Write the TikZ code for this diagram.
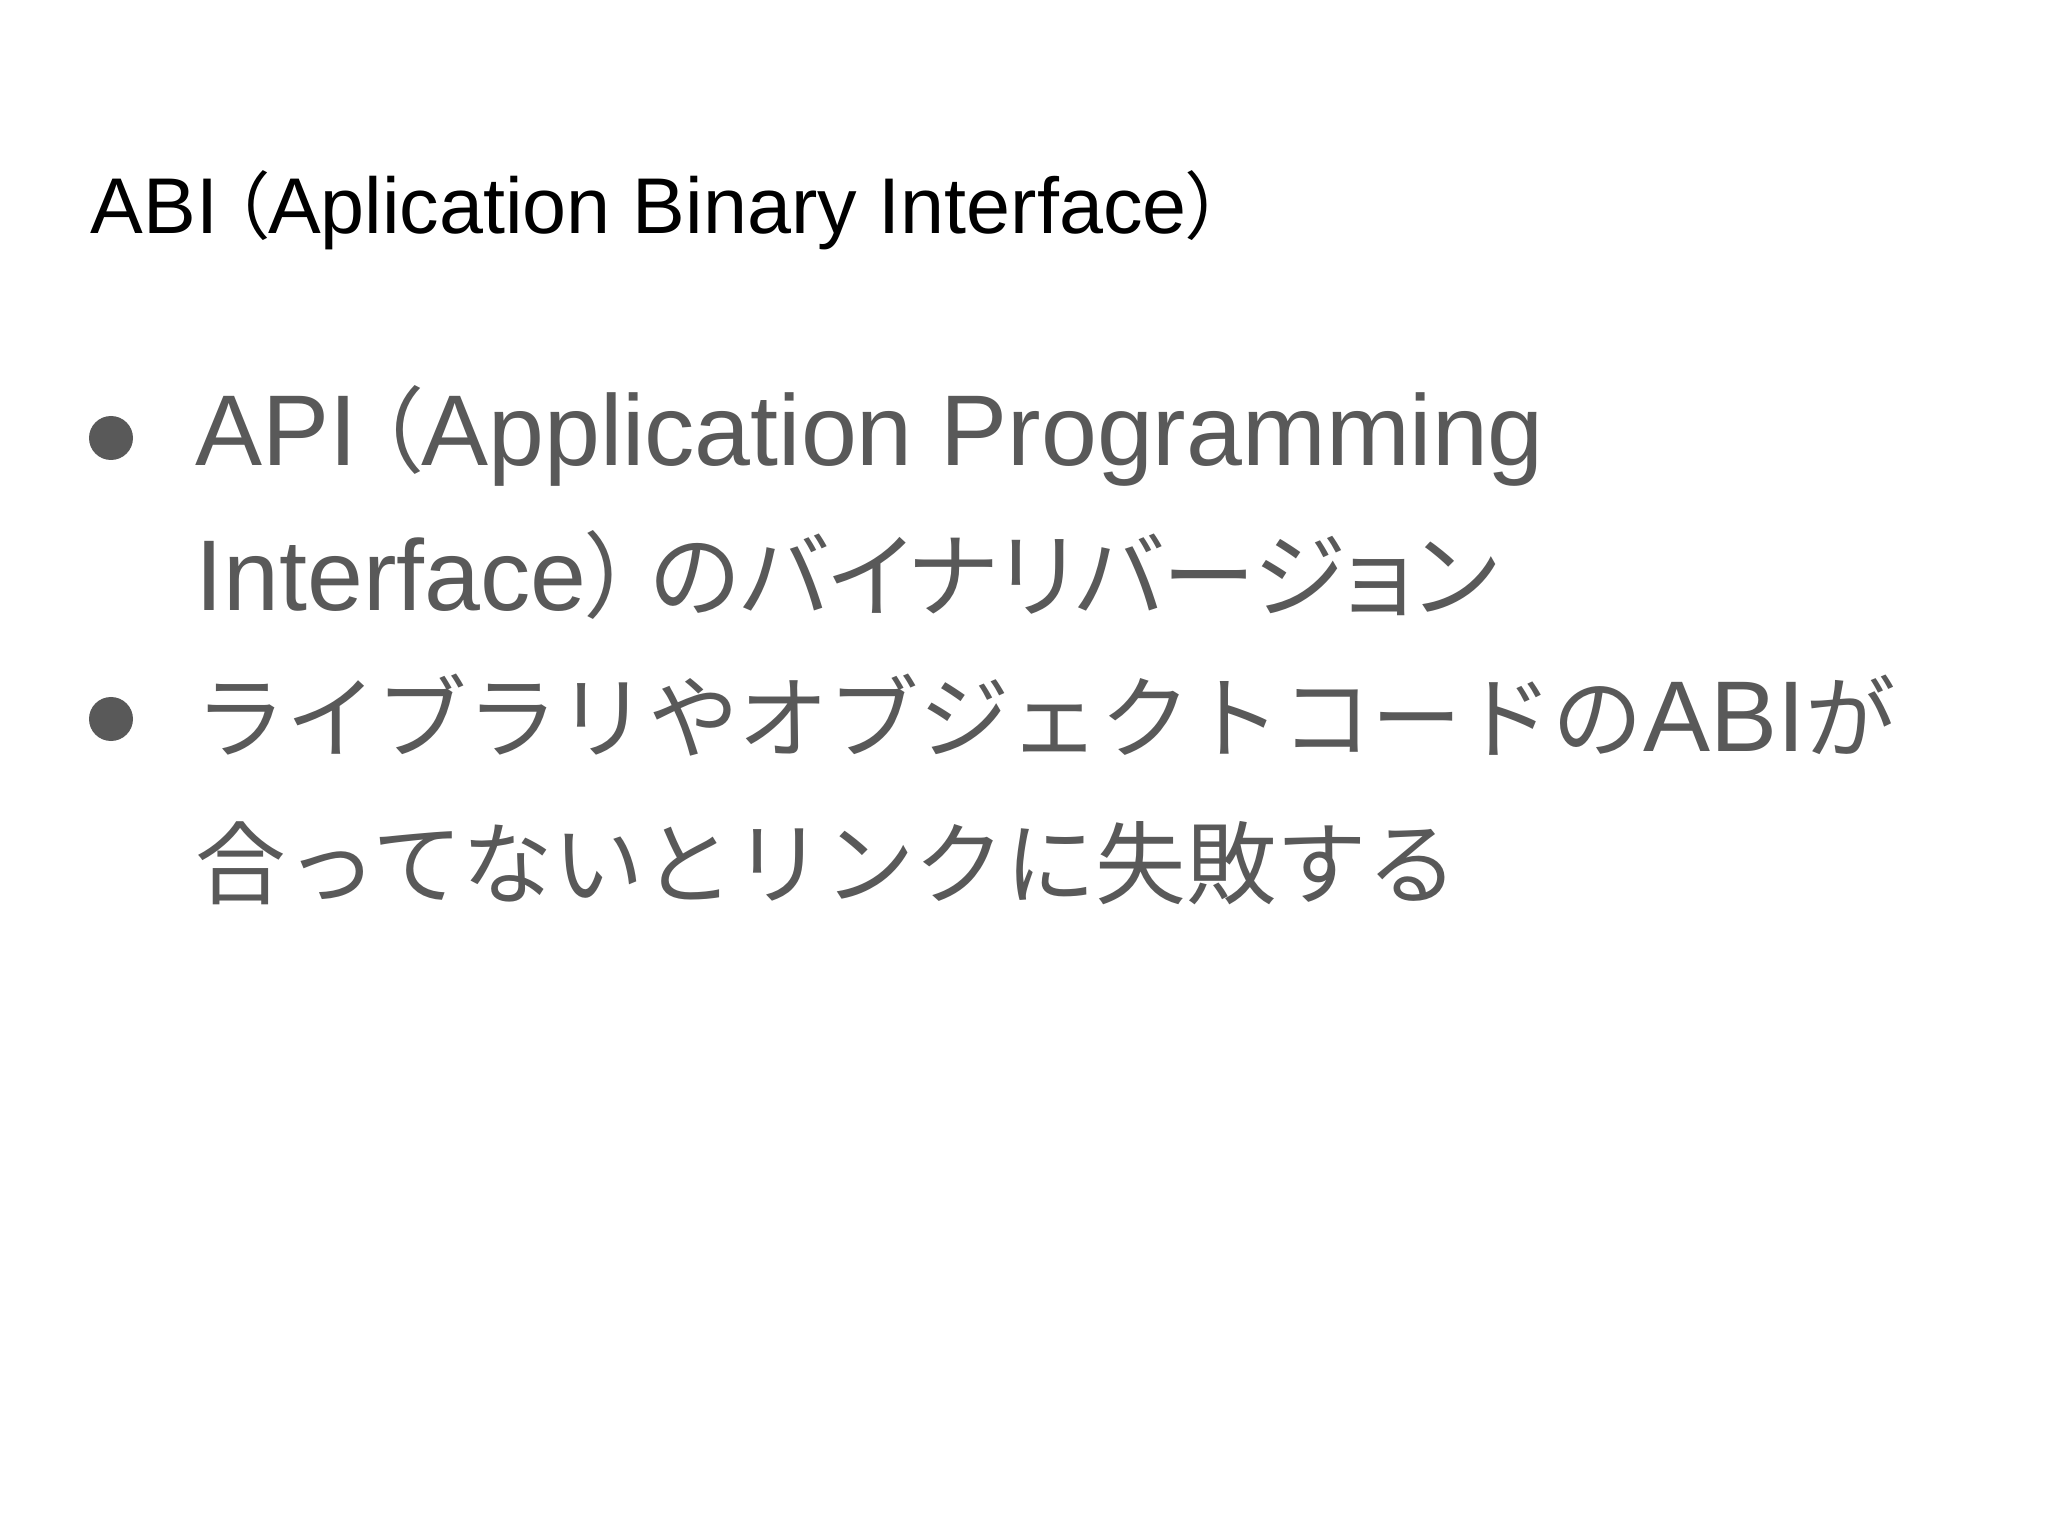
\documentclass[tikz,border=0pt]{standalone}
\usepackage{fontspec}
\setmainfont{Liberation Sans}
\newfontfamily\cjk[Scale=0.9]{Noto Sans CJK JP}
\newfontfamily\cjkp[Scale=0.93,RawFeature=+palt]{Noto Sans CJK JP}
\definecolor{txtgray}{HTML}{595959}
\begin{document}
\begin{tikzpicture}[
  title/.style={anchor=base west, inner sep=0pt, font=\fontsize{22.5}{26}\selectfont, text=black},
  body/.style={anchor=base west, inner sep=0pt, font=\fontsize{28.6}{34}\selectfont, text=txtgray},
  dot/.style={circle, fill=txtgray, minimum size=0.44cm, inner sep=0pt}]
\useasboundingbox[fill=white] (0,0) rectangle (20.48,-15.36);
\node[title] (t) at (0.90,-2.34) {ABI\,{\cjkp （}Aplication Binary Interface{\cjkp ）}};
\node[dot] (b1) at (1.11,-4.38) {};
\node[dot] (b2) at (1.11,-7.19) {};
\node[body] (l1) at (1.95,-4.66) {API\,{\cjkp （}Application Programming};
\node[body] (l2) at (1.95,-6.10) {Interface{\cjkp ）}\,{\cjkp のバイナリバージョン}};
\node[body] (l3) at (1.95,-7.52) {{\cjk ライブラリやオブジェクトコードの}ABI{\cjk が}};
\node[body] (l4) at (1.95,-8.98) {{\cjk 合ってないとリンクに失敗する}};
\end{tikzpicture}
\end{document}
